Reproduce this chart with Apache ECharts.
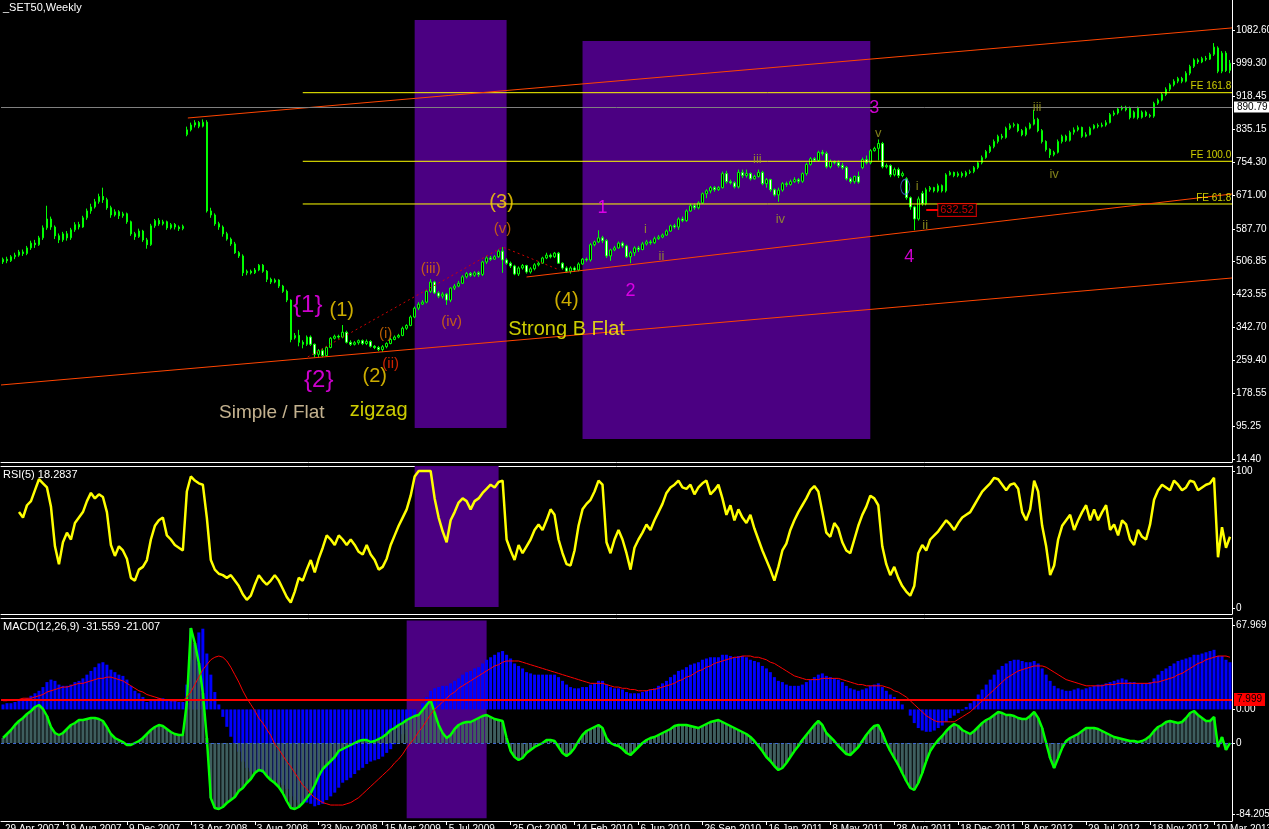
<!DOCTYPE html>
<html><head><meta charset="utf-8">
<script src="https://cdn.jsdelivr.net/npm/echarts@6/dist/echarts.min.js"></script>
<style>html,body{margin:0;padding:0;background:#000;}#c{width:1269px;height:829px;}</style>
</head><body><div id="c"></div>
<script>
// weekly candles: [open, close, low, high]
const ohlc = [
[505,512,500,516],[512,508,502,518],[508,518,505,522],[518,522,512,528],[522,530,518,535],[530,526,520,536],[526,540,522,545],[540,552,535,558],[552,548,540,560],[548,565,545,570],
[565,590,560,596],[590,612,585,645],[612,592,585,618],[592,570,562,596],[570,560,552,576],[560,575,555,580],[575,565,558,582],[565,585,560,590],[585,598,580,604],[598,592,586,605],
[592,615,590,620],[615,632,610,638],[632,642,625,650],[642,655,638,662],[655,668,650,675],[668,660,652,690],[660,640,635,665],[640,622,615,645],[622,630,618,636],[630,620,612,634],
[620,625,615,630],[625,605,600,628],[605,575,570,608],[575,568,560,580],[568,582,565,588],[582,560,555,585],[560,548,538,565],[548,595,545,600],[595,608,590,612],[608,600,595,614],
[600,605,596,610],[605,590,585,608],[590,598,586,602],[598,592,586,602],[592,588,582,596],[588,594,584,598],[822,834,818,842],[834,846,830,852],[846,852,840,858],[852,843,838,856],
[843,853,840,860],[853,632,628,858],[632,622,615,640],[622,600,595,626],[600,592,585,605],[592,575,568,596],[575,562,558,580],[562,550,545,566],[550,528,525,555],[528,520,515,532],
[520,478,470,524],[478,482,472,486],[482,478,474,486],[478,485,475,490],[485,497,482,500],[497,482,478,500],[482,462,455,485],[462,455,450,466],[455,460,452,464],[460,445,440,462],
[445,432,428,448],[432,410,405,436],[410,312,305,412],[316,322,312,328],[322,305,295,336],[305,300,290,310],[300,318,296,322],[318,300,296,322],[300,275,268,302],[275,284,268,288],
[284,272,268,290],[272,292,270,296],[292,315,290,318],[315,320,312,324],[320,318,314,324],[318,330,315,348],[330,305,302,334],[305,300,296,310],[300,304,297,308],[304,309,299,312],
[309,302,298,312],[302,307,298,312],[307,295,292,310],[295,292,288,298],[292,287,283,296],[287,294,281,298],[294,302,290,305],[302,312,300,316],[312,318,310,322],[318,322,315,326],
[322,340,320,344],[340,347,336,350],[347,368,345,372],[368,390,365,394],[390,400,385,405],[400,405,398,410],[405,432,402,436],[432,455,428,462],[455,428,425,458],[428,420,415,432],
[420,425,414,430],[425,410,398,428],[410,440,405,442],[440,445,435,450],[445,452,442,458],[452,468,450,472],[468,476,464,480],[476,472,468,480],[472,478,468,482],[478,474,468,482],
[474,505,470,508],[505,515,500,520],[515,512,508,520],[512,518,510,522],[518,532,515,536],[532,510,478,542],[510,502,498,514],[502,495,490,506],[495,475,472,498],[475,490,470,494],
[490,496,486,500],[496,480,476,498],[480,488,476,492],[488,498,484,502],[498,502,494,506],[502,515,500,518],[515,522,512,528],[522,518,514,526],[518,527,515,530],[527,502,500,530],
[502,490,486,504],[490,482,478,494],[482,490,476,494],[490,485,480,494],[485,500,482,504],[500,512,498,515],[512,510,506,516],[510,548,506,552],[548,555,544,558],[555,565,552,584],
[565,558,552,570],[558,520,515,562],[520,535,508,538],[535,540,532,545],[540,552,538,556],[552,545,540,556],[545,518,515,548],[518,528,502,532],[528,540,520,544],[540,536,530,545],
[536,550,534,555],[550,555,546,560],[555,553,548,560],[553,563,550,568],[563,567,560,572],[567,572,564,576],[572,582,570,586],[582,595,580,598],[595,592,588,600],[592,612,585,616],
[612,608,604,618],[608,632,605,636],[632,645,630,650],[645,640,635,650],[640,652,636,656],[652,675,650,678],[675,682,664,686],[682,690,676,694],[690,685,680,694],[685,690,682,694],
[690,725,688,730],[725,705,700,732],[705,702,698,710],[702,692,688,706],[692,728,688,735],[728,720,714,735],[720,725,715,735],[725,712,708,728],[712,718,710,722],[718,728,715,735],
[728,700,696,732],[700,710,690,714],[710,685,680,712],[685,672,668,688],[672,684,655,690],[684,700,680,704],[700,698,692,705],[698,705,695,710],[705,710,702,716],[710,706,700,714],
[706,725,702,728],[725,748,720,752],[748,762,745,766],[762,758,754,766],[758,778,755,782],[778,775,770,784],[775,742,738,780],[742,755,738,760],[755,752,748,758],[752,745,740,758],
[745,740,735,752],[740,712,708,744],[712,705,700,716],[705,718,700,720],[718,704,700,730],[740,760,736,765],[760,752,748,770],[752,782,748,786],[782,788,780,792],[788,800,758,810],
[800,742,738,804],[742,745,738,750],[745,722,716,748],[722,735,718,740],[735,720,714,740],[720,725,716,730],[712,665,660,716],[665,642,635,668],[642,612,584,645],[612,662,608,668],
[676,650,645,682],[650,685,646,690],[685,690,680,694],[690,682,678,692],[682,695,678,700],[695,682,678,698],[682,722,678,726],[722,728,720,732],[728,720,716,730],[720,725,716,730],
[725,720,715,730],[720,728,716,732],[728,730,724,735],[730,740,726,744],[740,752,736,756],[752,765,748,770],[765,780,762,784],[780,792,776,796],[792,805,788,810],[805,818,800,822],
[818,815,810,824],[815,838,812,842],[838,845,834,850],[845,847,840,852],[847,832,828,850],[832,822,818,836],[822,838,818,842],[838,848,835,852],[848,860,845,884],[860,832,828,864],
[832,805,800,836],[805,785,780,808],[785,772,764,788],[772,778,768,782],[778,805,775,810],[805,818,800,822],[818,808,804,822],[808,828,805,832],[828,834,822,840],[834,840,830,845],
[840,818,814,842],[818,822,815,828],[822,838,820,842],[838,845,835,848],[845,843,838,850],[843,846,840,852],[846,852,842,858],[852,872,850,876],[872,876,868,882],[876,886,872,890],
[886,890,882,894],[890,884,880,894],[888,865,860,892],[865,878,862,882],[888,865,860,892],[865,878,862,882],[878,870,866,882],[870,868,864,874],[868,900,864,904],[900,908,896,912],
[908,922,905,926],[922,935,918,940],[935,946,930,950],[946,955,942,960],[955,962,950,966],[962,955,950,966],[955,975,952,980],[975,992,970,996],[992,1008,988,1012],[1008,1003,998,1012],
[1003,1012,1000,1016],[1012,1010,1005,1018],[1010,1022,1008,1026],[1022,1040,1018,1050],[1038,980,975,1042],[980,1025,975,1030],[1025,982,978,1030],[982,1000,975,1008]
];
const rsi = [
null,null,null,null,70,66,75,78,86,94, 91,88,74,45,32,48,55,50,62,66, 70,78,84,80,83,81,70,46,38,45,
42,36,22,20,28,30,35,50,60,64, 66,53,50,46,44,42,85,96,93,91, 90,66,35,28,25,24,22,24,20,16,
10,6,9,17,24,20,17,20,24,20, 14,8,4,12,22,20,28,35,26,36, 44,53,50,46,53,50,46,50,46,41,
39,46,39,35,28,30,36,46,53,60, 66,72,82,96,100,100,100,100,80,66, 56,48,64,70,77,80,78,72,78,80,
84,87,90,88,92,93,50,42,35,46, 40,45,50,57,61,57,64,72,68,50, 40,32,31,42,60,72,76,79,85,93,
90,48,40,50,57,50,40,28,44,50, 55,61,57,64,70,76,84,88,90,93, 88,87,90,83,88,91,93,83,86,90,
80,68,75,64,72,66,62,68,58,50, 42,35,28,20,30,42,47,57,64,70, 75,80,86,89,85,70,55,52,62,58,
48,42,40,50,60,68,74,82,80,75, 45,32,24,30,22,16,12,9,16,40, 46,42,50,53,56,60,64,61,57,62,
66,68,70,75,80,85,88,91,95,94, 90,86,90,91,87,70,64,72,93,85, 60,45,24,31,50,60,64,68,57,64,
70,75,64,72,64,70,75,57,61,53, 64,61,50,46,57,52,50,61,79,86, 90,88,86,93,90,86,88,93,92,86,
88,90,91,95,37,59,44,52
];
const macd = [
4,5,5,6,7,8,9,11,13,15, 18,22,24,23,20,19,19,20,22,23, 25,28,31,34,37,38,36,32,30,28,
27,24,19,15,13,10,6,7,8,9, 9,8,8,7,6,6,20,40,52,62, 65,45,28,14,4,-6,-14,-22,-28,-34,
-42,-47,-50,-51,-50,-51,-53,-56,-57,-59, -61,-64,-70,-73,-75,-76,-75,-76,-78,-77, -76,-73,-70,-67,-63,-59,-57,-55,-52,-49,
-47,-44,-42,-41,-40,-38,-35,-32,-28,-25, -20,-16,-11,-5,0,5,10,15,17,18, 19,19,21,23,25,28,30,31,33,34,
37,40,42,44,46,47,44,41,37,35, 33,30,29,28,28,28,28,28,28,26, 23,20,18,17,17,18,18,20,21,23,
23,20,18,17,17,16,14,13,13,13, 14,15,16,17,19,21,23,26,28,31, 32,34,36,37,38,40,41,42,42,42,
44,44,43,42,43,43,42,40,39,38, 35,33,30,26,23,22,20,19,19,19, 20,22,24,26,28,29,27,26,25,24,
22,19,17,16,15,16,17,19,20,21, 18,15,12,10,7,4,0,-5,-11,-15, -17,-18,-18,-17,-15,-13,-10,-7,-5,-3,
-1,2,5,8,12,16,20,24,28,32, 35,37,39,40,40,39,38,38,39,37, 33,28,23,19,17,16,15,15,16,17,
16,17,18,19,20,20,21,22,23,24, 25,24,22,22,21,21,21,22,25,28, 31,33,35,37,39,40,41,42,44,44,
45,46,47,48,43,43,40,38
];
const signal = [
7,7,8,8,8,9,9,9,10,11, 12,14,15,16,17,18,18,19,20,21, 21,22,23,24,25,25,26,26,25,24,
23,21,19,17,15,14,12,11,10,9, 8,8,7,7,7,7,10,14,20,26, 32,36,40,42,43,42,39,34,28,22,
15,9,4,-1,-7,-11,-16,-21,-28,-32, -37,-42,-46,-51,-56,-61,-64,-68,-71,-73, -75,-76,-77,-77,-77,-77,-76,-75,-73,-71,
-68,-65,-62,-59,-56,-53,-50,-47,-43,-40, -36,-31,-27,-23,-18,-14,-9,-4,0,3, 6,9,12,14,17,19,21,23,25,27,
29,31,33,35,36,38,39,39,39,39, 38,37,36,35,34,33,32,31,30,29, 28,27,26,25,24,23,22,21,21,21,
21,20,19,18,18,17,17,16,16,15, 15,15,16,16,17,18,19,20,21,23, 24,26,27,29,31,32,34,35,37,38,
39,40,41,42,42,43,43,43,42,42, 41,40,38,37,35,33,31,29,27,26, 25,24,24,24,24,25,25,25,25,25,
24,23,22,21,20,20,19,19,19,19, 19,18,17,15,14,12,10,7,4,1, -2,-5,-7,-9,-10,-10,-10,-10,-10,-8,
-6,-4,-2,1,4,7,10,13,16,19, 22,25,27,29,31,32,33,34,35,35, 35,34,32,30,28,26,24,23,22,21,
20,19,19,19,19,19,20,20,20,21, 21,21,21,21,21,21,21,21,22,22, 23,24,25,26,28,29,31,33,35,37,
38,40,41,42,43,43,43,42
];
const osma = [
5,9,13,18,22,25,29,32,36,38, 34,27,16,10,8,10,14,18,20,23, 23,24,25,25,24,22,16,9,5,3,
1,-2,-2,0,2,5,9,13,16,18, 17,14,11,9,8,8,40,115,100,80, 50,5,-55,-65,-66,-64,-60,-57,-54,-48,
-45,-40,-36,-30,-27,-28,-33,-37,-40,-44, -50,-58,-65,-66,-64,-60,-55,-50,-42,-33, -26,-22,-18,-14,-8,-6,-4,-2,0,2,
3,3,1,2,4,6,9,13,15,18, 20,23,25,27,28,33,38,43,30,18, 10,5,8,14,18,20,21,21,23,25,
27,28,26,24,23,22,5,-8,-14,-17, -15,-10,-7,-4,-2,0,3,3,2,-4, -10,-13,-10,-5,2,8,12,14,16,18,
15,5,0,-2,-3,-6,-10,-12,-8,-4, 0,3,5,6,8,10,12,14,17,18, 18,18,17,16,15,17,19,21,22,23,
21,19,17,15,13,11,9,6,2,-3, -8,-14,-18,-23,-27,-25,-20,-14,-8,-3, 3,8,13,18,22,18,10,6,2,-3,
-7,-11,-12,-8,-4,2,8,13,17,18, 10,0,-8,-15,-22,-30,-38,-45,-47,-40, -30,-18,-8,-2,3,7,12,16,19,17,
13,11,9,12,16,20,23,25,28,31, 30,28,28,27,25,24,24,27,31,25, 15,0,-15,-25,-15,-5,2,5,7,9,
12,15,15,15,14,12,10,8,6,5, 4,3,2,2,1,2,4,7,12,16, 18,21,22,21,20,21,25,30,32,28,
25,22,22,26,-4,6,-7,0
];
const priceTicks = [14.40, 95.25, 178.55, 259.40, 342.70, 423.55, 506.85, 587.70, 671.00, 754.30, 835.15, 918.45, 999.30, 1082.60];
const rsiTicks = [0, 100];
const macdTicks = [-84.205, 0, 67.969];
const osmaTicks = [0];
const tickLabels = ["29 Apr 2007","19 Aug 2007","9 Dec 2007","13 Apr 2008","3 Aug 2008","23 Nov 2008","15 Mar 2009","5 Jul 2009","25 Oct 2009","14 Feb 2010","6 Jun 2010","26 Sep 2010","16 Jan 2011","8 May 2011","28 Aug 2011","18 Dec 2011","8 Apr 2012","29 Jul 2012","18 Nov 2012","10 Mar 2013"];
const lastPrice = 890.79;
const macdLevel = 7.999;
const feLevels = [["FE 161.8", 926.5], ["FE 100.0", 755.7], ["FE 61.8", 649.4]];
const feStartBar = 75;
// highlighted zones [fromBar, toBar, top, bottom]
const priceZones = [[103, 126, 1107.5, 91.6], [145, 217, 1055.2, 64.2]];
const rsiZones = [[103, 124, 103.6, 0.7]];
const macdZones = [[101, 121, 71.6, -87.7]];
// trend lines [[bar, price], [bar, price]]
const trendLines = [
  [[46.25, 863.5], [307.5, 1087.8]],
  [[-0.5, 198.7], [307.5, 465.1]],
  [[131, 467.6], [307.5, 674.3]]
];
const zigzagPath = [[76.25, 268.4], [125, 542.3], [139.25, 485]];
const pointerLine = [[231, 634.4], [234, 634.4]];
const priceTag = ["632.52", 234, 634.4];
const waveLabels = [
  ["{1}", 76.25, 398, "#ff00ff", 24], ["{2}", 79, 211, "#ff00ff", 24],
  ["(1)", 84.75, 383, "#ffd700", 20], ["(2)", 93, 221, "#ffd700", 20],
  ["(3)", 124.75, 654, "#ffd700", 20], ["(4)", 141, 410, "#ffd700", 20],
  ["Strong B Flat", 141, 336, "#ffff00", 20], ["Simple / Flat", 67.25, 129, "#f5deb3", 19],
  ["zigzag", 94, 134, "#ffff00", 20],
  ["(i)", 95.75, 326, "#e07000", 15], ["(ii)", 97, 251, "#ff2a00", 15],
  ["(iii)", 107, 487.5, "#e07000", 15], ["(iv)", 112.25, 355.5, "#e07000", 15], ["(v)", 125, 587, "#e07000", 15],
  ["1", 150, 639, "#ff00ff", 18], ["2", 157, 433, "#ff00ff", 18], ["3", 218, 888, "#ff00ff", 18], ["4", 226.75, 517, "#ff00ff", 18],
  ["i", 160.75, 585, "#a0a020", 13], ["ii", 164.75, 520, "#a0a020", 13], ["iii", 188.75, 761, "#a0a020", 13],
  ["iv", 194.5, 610, "#a0a020", 13], ["v", 219, 825, "#a0a020", 13], ["i", 228.75, 692, "#a0a020", 13],
  ["ii", 230.75, 597, "#a0a020", 13], ["iii", 258.75, 891, "#a0a020", 13], ["iv", 263, 722, "#a0a020", 13]
];
const blueMark = [225.75, 692];

const N = ohlc.length;
const FONT = 'Liberation Sans';
const cats = ohlc.map((_, i) => 'w' + i);
const labelAt = {}; const tickAt = {};
labelAt[0] = tickLabels[0];
for (let k = 1; k < tickLabels.length; k++) { const b = 15 + 16 * (k - 1); labelAt[b] = tickLabels[k]; tickAt[b] = true; }

const chart = echarts.init(document.getElementById('c'), null, {renderer: 'canvas'});
const white = '#ffffff';
const grids = [
  {left: 1, right: 37, top: 0, height: 462},
  {left: 1, right: 37, top: 466, height: 148},
  {left: 1, right: 37, top: 618, height: 203}
].map(g => Object.assign(g, {containLabel: false, outerBoundsMode: 'none', show: false}));

function catAxis(gi, withLabels) {
  return {
    type: 'category', gridIndex: gi, data: cats, position: 'bottom',
    axisLine: {show: true, onZero: false, lineStyle: {color: white, width: 1}},
    axisTick: withLabels ? {show: true, alignWithLabel: true, length: 4, interval: (i) => !!tickAt[i], lineStyle: {color: white}} : {show: false},
    axisLabel: withLabels ? {show: true, interval: 0, formatter: (v, i) => labelAt[i] || '', color: white, fontSize: 10, fontFamily: FONT, align: 'left', margin: 3, padding: [0, 0, 0, 2]} : {show: false},
    splitLine: {show: false}
  };
}
function valAxis(gi, topLine) {
  return {
    type: 'value', gridIndex: gi, min: -0.5, max: N - 0.5, position: 'top', show: true,
    axisLine: {show: topLine, onZero: false, lineStyle: {color: white}}, axisTick: {show: false}, axisLabel: {show: false}, splitLine: {show: false}
  };
}
function yAx(gi, min, max, ticks, fmt, lineShow) {
  return {
    type: 'value', gridIndex: gi, position: 'right', min: min, max: max,
    axisLine: {show: lineShow, onZero: false, lineStyle: {color: white}},
    axisTick: {show: true, length: 3, customValues: ticks, lineStyle: {color: white}},
    axisLabel: {show: true, customValues: ticks, formatter: fmt, color: white, fontSize: 10, fontFamily: FONT, margin: 4},
    splitLine: {show: false}
  };
}
function zoneSeries(xi, yi, zones) {
  return {
    type: 'custom', xAxisIndex: xi, yAxisIndex: yi, z: 1, silent: true, data: zones, encode: {x: [0, 1], y: [2, 3]},
    renderItem: (params, api) => {
      const a = api.coord([api.value(0), api.value(2)]);
      const b = api.coord([api.value(1), api.value(3)]);
      return {type: 'rect', shape: {x: a[0], y: a[1], width: b[0] - a[0], height: b[1] - a[1]}, style: {fill: '#4b0082'}};
    }
  };
}
function lineSeries(pts, color, type, width, z) {
  return {type: 'line', xAxisIndex: 3, yAxisIndex: 0, data: pts, symbol: 'none', silent: true, z: z || 4,
    lineStyle: {color: color, width: width || 1, type: type || 'solid'}, animation: false};
}

const series = [
  zoneSeries(3, 0, priceZones), zoneSeries(4, 1, rsiZones), zoneSeries(5, 2, macdZones),
  {
    type: 'candlestick', xAxisIndex: 0, yAxisIndex: 0, data: ohlc, barWidth: 2, z: 3,
    itemStyle: {color: '#000000', color0: '#ffffff', borderColor: '#00ff00', borderColor0: '#00ff00', borderWidth: 1},
    markLine: {silent: true, symbol: 'none', animation: false,
      data: [{yAxis: lastPrice}],
      lineStyle: {color: '#808080', width: 1, type: 'solid'},
      label: {show: true, position: 'end', formatter: lastPrice.toFixed(2), color: '#000', backgroundColor: '#fff', padding: [1, 3, 0, 3], fontSize: 10, fontFamily: FONT, distance: 2}}
  }
];
feLevels.forEach(f => series.push(lineSeries([[feStartBar, f[1]], [N - 0.5, f[1]]], '#ffff00', 'solid', 1, 4)));
trendLines.forEach(t => series.push(lineSeries(t, '#ff4500', 'solid', 1, 4)));
series.push(lineSeries(zigzagPath, '#d00000', [2, 3], 1, 4));
series.push(lineSeries(pointerLine, '#ff0000', 'solid', 2, 4));
series.push({
  type: 'scatter', xAxisIndex: 3, yAxisIndex: 0, symbolSize: 1, z: 10, silent: true,
  itemStyle: {color: 'rgba(0,0,0,0)'},
  label: {show: true, formatter: p => p.name, fontFamily: FONT},
  data: [].concat(
    waveLabels.map(w => ({name: w[0], value: [w[1], w[2]], label: {position: 'inside', color: w[3], fontSize: w[4]}})),
    feLevels.map(f => ({name: f[0], value: [N - 0.7, f[1]], label: {position: 'inside', align: 'right', verticalAlign: 'bottom', color: '#ffff00', fontSize: 10, padding: [0, 0, 1, 0]}})),
    [{name: priceTag[0], value: [priceTag[1], priceTag[2]], label: {position: 'inside', align: 'left', verticalAlign: 'middle', color: '#ff0000', fontSize: 11, borderColor: '#ff0000', borderWidth: 1, padding: [1, 2, 0, 2], backgroundColor: '#000'}}]
  )
});
series.push({type: 'scatter', xAxisIndex: 3, yAxisIndex: 0, symbol: 'circle', symbolSize: [9, 15], z: 9, silent: true,
  itemStyle: {color: 'rgba(0,0,0,0)', borderColor: '#3a7bd5', borderWidth: 1}, data: [blueMark]});
series.push({type: 'line', xAxisIndex: 1, yAxisIndex: 1, data: rsi, symbol: 'none', z: 4, lineStyle: {color: '#ffff00', width: 2.5}});
series.push({type: 'bar', xAxisIndex: 2, yAxisIndex: 2, data: macd, barWidth: 3, barGap: '-100%', z: 2, itemStyle: {color: '#0000ff'}});
series.push({type: 'bar', xAxisIndex: 2, yAxisIndex: 3, data: osma, barWidth: 3, barGap: '-100%', z: 3, itemStyle: {color: '#3e5e5e'},
  markLine: {silent: true, symbol: 'none', animation: false, data: [{yAxis: 0}], lineStyle: {color: '#3a66d0', width: 1, type: [3, 3]}, label: {show: false}}});
series.push({type: 'line', xAxisIndex: 2, yAxisIndex: 3, data: osma, symbol: 'none', z: 4, lineStyle: {color: '#00ff00', width: 2.5}});
series.push({type: 'line', xAxisIndex: 2, yAxisIndex: 2, data: signal, symbol: 'none', z: 5, lineStyle: {color: '#ff0000', width: 1},
  markLine: {silent: true, symbol: 'none', animation: false, data: [{yAxis: macdLevel}], lineStyle: {color: '#ff0000', width: 2, type: 'solid'},
    label: {show: true, position: 'end', formatter: macdLevel.toFixed(3), color: '#000', backgroundColor: '#ff0000', padding: [2, 3, 1, 3], fontSize: 10, fontFamily: FONT, distance: 2}}});

chart.setOption({
  animation: false,
  backgroundColor: '#000000',
  textStyle: {fontFamily: FONT},
  title: [
    {text: '_SET50,Weekly', left: 3, top: 2, padding: 0, textStyle: {color: white, fontSize: 11, fontWeight: 'normal', fontFamily: FONT}},
    {text: 'RSI(5) 18.2837', left: 3, top: 469, padding: 0, textStyle: {color: white, fontSize: 11, fontWeight: 'normal', fontFamily: FONT}},
    {text: 'MACD(12,26,9) -31.559 -21.007', left: 3, top: 621, padding: 0, textStyle: {color: white, fontSize: 11, fontWeight: 'normal', fontFamily: FONT}}
  ],
  grid: grids,
  xAxis: [catAxis(0, false), catAxis(1, false), catAxis(2, true), Object.assign(valAxis(0, false), {show: false}), valAxis(1, true), valAxis(2, true)],
  yAxis: [
    yAx(0, 6.93, 1157.3, priceTicks, v => v.toFixed(2), true),
    yAx(1, -4.38, 103.65, rsiTicks, v => String(v), true),
    yAx(2, -89.84, 73.61, macdTicks, v => (v === 0 ? '0.00' : v.toFixed(3)), true),
    yAx(2, -78, 125, osmaTicks, v => String(v), false)
  ],
  series: series
});
</script>
</body></html>
